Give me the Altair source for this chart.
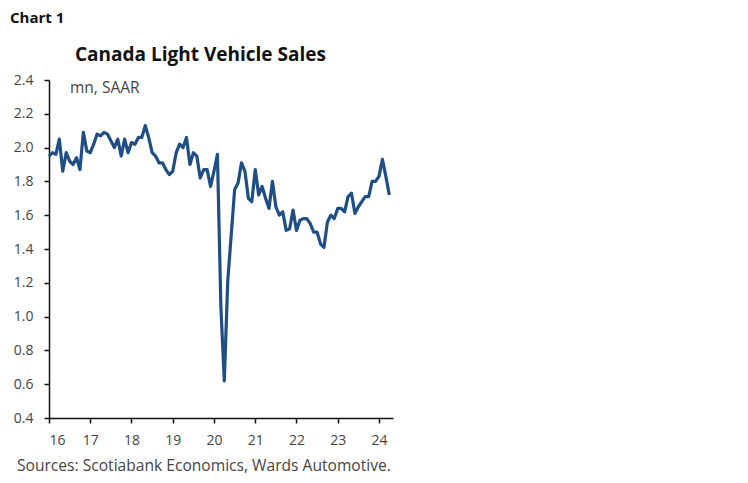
import altair as alt
import pandas as pd

years = list(range(2016, 2025))
sales_2016 = [1.95, 1.97, 1.96, 2.05, 1.86, 1.97, 1.92, 1.90, 1.94, 1.87, 2.09, 1.98]
sales_2017 = [1.97, 2.02, 2.08, 2.07, 2.09, 2.08, 2.04, 2.00, 2.05, 1.95, 2.05, 1.97]
sales_2018 = [2.03, 2.02, 2.06, 2.06, 2.13, 2.06, 1.97, 1.95, 1.91, 1.91, 1.87, 1.84]
sales_2019 = [1.86, 1.97, 2.02, 2.00, 2.06, 1.90, 1.97, 1.95, 1.82, 1.87, 1.87, 1.77]
sales_2020 = [1.86, 1.96, 1.06, 0.62, 1.21, 1.48, 1.75, 1.79, 1.91, 1.86, 1.70, 1.68]
sales_2021 = [1.87, 1.72, 1.77, 1.70, 1.64, 1.80, 1.65, 1.60, 1.62, 1.51, 1.52, 1.63]
sales_2022 = [1.51, 1.57, 1.58, 1.58, 1.55, 1.50, 1.50, 1.43, 1.41, 1.56, 1.60, 1.58]
sales_2023 = [1.64, 1.64, 1.62, 1.71, 1.73, 1.61, 1.65, 1.68, 1.71, 1.71, 1.80, 1.80]
sales_2024 = [1.83, 1.93, 1.83, 1.72]

all_years = [sales_2016, sales_2017, sales_2018, sales_2019, sales_2020,
             sales_2021, sales_2022, sales_2023, sales_2024]

rows = []
for yr, vals in zip(years, all_years):
    for m, v in enumerate(vals):
        rows.append({"t": (yr - 2000) + m / 12.0, "v": v})
df = pd.DataFrame(rows)

x_ticks = [16, 17, 18, 19, 20, 21, 22, 23, 24]
y_ticks = [0.4, 0.6, 0.8, 1.0, 1.2, 1.4, 1.6, 1.8, 2.0, 2.2, 2.4]

FONT = "Open Sans"
W, H = 344, 338

line = alt.Chart(df).mark_line(color="#1f4e85", strokeWidth=3.2, strokeJoin="round").encode(
    x=alt.X("t:Q", scale=alt.Scale(domain=[16, 24.34], nice=False, zero=False),
            axis=alt.Axis(values=x_ticks, format="d", title=None, grid=False,
                          domainColor="#111111", domainWidth=1.5, tickColor="#111111",
                          tickWidth=1.5, tickSize=5, labelPadding=10, labelFontSize=14,
                          labelColor="#444444", labelFont=FONT)),
    y=alt.Y("v:Q", scale=alt.Scale(domain=[0.4, 2.4], nice=False, zero=False),
            axis=alt.Axis(values=y_ticks, format=".1f", title=None, grid=False,
                          domainColor="#111111", domainWidth=1.5, tickColor="#111111",
                          tickWidth=1.5, tickSize=5, labelPadding=11, labelFontSize=14,
                          labelColor="#444444", labelFont=FONT)),
)

def txt(s, x, y, size, weight="normal", color="#222222", align="left"):
    return alt.Chart(pd.DataFrame({"s": [s]})).mark_text(
        align=align, baseline="alphabetic", fontSize=size, fontWeight=weight,
        font=FONT, color=color,
    ).encode(text="s:N", x=alt.value(x), y=alt.value(y))

chart = alt.layer(
    line,
    txt("Chart 1", -39, -57, 15, "bold", "#111111"),
    txt("Canada Light Vehicle Sales", 26, -19, 19, "bold", "#111111"),
    txt("mn, SAAR", 21, 13, 15.5, "normal", "#444444"),
    txt("Sources: Scotiabank Economics, Wards Automotive.", -32, 391, 15.6, "normal", "#444444"),
).properties(
    width=W, height=H,
    autosize=alt.AutoSizeParams(type="none"),
    padding={"left": 41, "top": 72, "right": 20, "bottom": 70},
).configure_view(stroke=None)

chart.save("out.html", embed_options={"renderer": "svg", "actions": False})
